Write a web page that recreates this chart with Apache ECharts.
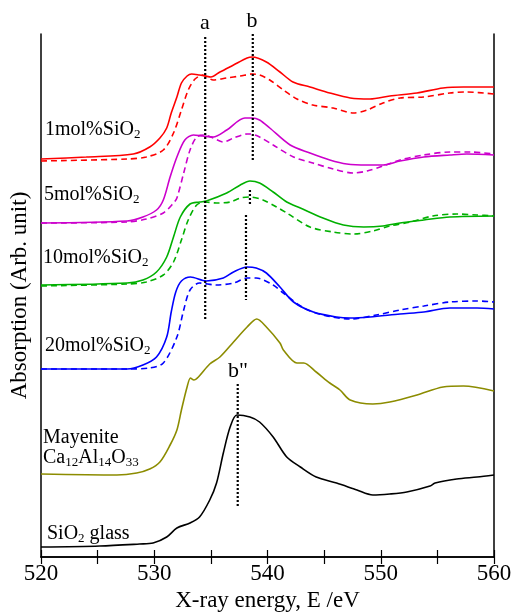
<!DOCTYPE html>
<html>
<head>
<meta charset="utf-8">
<script src="https://cdn.jsdelivr.net/npm/echarts@6/dist/echarts.min.js"></script>
<style>
  html, body { margin: 0; padding: 0; background: #fff; }
  #chart { width: 512px; height: 612px; }
</style>
</head>
<body>
<div id="chart"></div>
<script>
// energy (eV), absorption (arb. unit, stacked offsets)
const si1Solid = [[520,398],[524,400],[528.15,403],[529.6,410],[530.5,419],[531.1,429],[531.5,444],[532.0,460],[532.4,474],[532.9,481],[533.3,483],[534.0,482],[534.5,481],[535.0,480],[535.8,485],[537.0,492],[538.2,499],[538.65,500],[539.9,495],[541.1,485],[542.25,475],[543.75,470],[545.5,464],[547.3,459],[549.05,458],[550.8,461],[553.2,464],[555.5,469],[557.3,470],[560,470]];
const si1Dash = [[520,396],[527.6,398],[529.3,400],[530.8,407],[531.7,424],[532.4,447],[533.0,467],[533.6,478],[534.3,482],[535.2,477],[536.4,479],[537.6,481],[538.65,483],[539.3,482],[540.2,477],[541.4,467],[542.6,458],[544.0,452],[545.8,449],[547.6,444],[548.8,447],[550.2,454],[551.7,459],[553.8,460],[556.1,464],[557.6,465],[560,463]];
const si5Solid = [[520,334],[527.6,336],[529.0,340],[530.2,347],[530.8,357],[531.4,380],[532.0,400],[532.7,417],[533.45,422],[534.3,421],[535.2,420],[536.4,427],[538.0,439],[538.65,439],[539.3,437],[540.2,429],[542.0,412],[543.75,404],[545.5,397],[547.0,393],[548.8,392],[550.2,392],[551.7,396],[553.8,400],[556.1,402],[557.6,403],[560,402]];
const si5Dash = [[520,334],[527.6,335],[529.3,338],[530.8,344],[531.7,354],[532.0,359],[532.6,384],[533.16,407],[533.75,420],[534.4,422],[535.2,419],[536.1,415],[537.0,419],[538.2,423],[538.45,423],[539.3,420],[540.5,412],[542.3,400],[544.0,394],[545.8,388],[547.6,384],[548.8,386],[550.2,391],[551.7,397],[553.8,402],[556.1,405],[557.9,405],[560,403]];
const si10Solid = [[520,272],[527.6,274],[529.0,277],[530.2,285],[531.1,300],[531.7,320],[532.3,340],[533.16,353],[534.0,355],[534.6,356],[536.4,364],[537.6,372],[538.45,376],[539.3,374],[540.5,365],[541.7,355],[542.9,349],[544.9,339],[546.7,332],[548.5,330],[550.2,331],[551.7,334],[553.8,337],[556.1,340],[560,341]];
const si10Dash = [[520,271],[527.6,273],[529.3,275],[530.8,282],[531.7,295],[532.4,317],[533.0,337],[533.75,352],[534.5,355],[535.5,354],[536.7,355],[537.6,359],[538.45,360],[539.6,357],[540.8,350],[541.7,344],[543.75,330],[545.8,325],[547.6,323],[549.3,326],[550.8,331],[552.6,335],[554.6,341],[556.7,343],[558.5,342],[560,341]];
const si20Solid = [[520,188],[527.6,188],[529.0,192],[530.2,200],[531.1,220],[531.5,245],[531.9,265],[532.4,276],[533.2,280],[534.6,276],[536.1,279],[537.0,285],[538.2,290],[539.0,289],[539.9,284],[541.1,270],[542.3,255],[544.05,245],[546.1,240],[547.3,239],[549.05,240],[551.7,243],[553.8,245],[556.1,249],[558.5,249],[560,248]];
const si20Dash = [[520,188],[527.6,188],[529.6,189],[530.8,194],[532.0,220],[532.6,247],[533.16,267],[534.0,274],[535.5,272],[537.0,274],[538.2,279],[539.0,279],[540.5,272],[541.4,264],[543.2,249],[544.9,242],[547.3,238],[549.6,242],[551.7,247],[553.8,251],[556.1,255],[558.5,256],[560,255]];
const mayenite = [[520,83],[526.7,82],[528.45,84],[529.6,88],[530.5,95],[531.4,112],[532.0,127],[532.4,147],[532.9,170],[533.2,179],[533.5,177],[533.9,180],[534.9,193],[535.8,200],[537.0,215],[538.2,230],[539.05,238],[539.9,230],[541.1,214],[541.4,207],[542.6,194],[543.2,194],[544.3,185],[545.5,174],[546.4,167],[547.3,157],[549.3,153],[550.8,155],[553.2,162],[555.5,170],[557.3,171],[560,166]];
const silicaGlass = [[520,10],[525.2,11],[528.7,13],[529.9,14],[531.1,20],[532.0,29],[533.16,34],[534.0,40],[534.9,57],[535.5,74],[536.1,104],[536.7,130],[537.3,142],[538.45,140],[539.3,135],[540.5,120],[541.7,100],[542.9,90],[544.3,80],[546.1,74],[547.9,67],[549.3,62],[550.8,63],[552.3,65],[554.35,71],[554.8,74],[556.7,78],[558.5,80],[560,82]];

// dotted guide lines (energy, absorption)
const guideA = [[534.5,520],[534.5,238]];
const guideB1 = [[538.7,523],[538.7,397]];
const guideB2 = [[538.45,367],[538.45,352]];
const guideB3 = [[538.1,342],[538.1,257]];
const guideB2dd = [[537.37,173],[537.37,49]];

const sampleLabels = ['1mol%SiO{s|2}', '5mol%SiO{s|2}', '10mol%SiO{s|2}', '20mol%SiO{s|2}', 'Mayenite', 'Ca{s|12}Al{s|14}O{s|33}', 'SiO{s|2} glass'];
const xTicks = [520, 530, 540, 550, 560];

const FONT = '"Liberation Serif", "Times New Roman", serif';

const chart = echarts.init(document.getElementById('chart'));

function curve(data, color, dashed) {
  return {
    type: 'line', data: data, symbol: 'none', smooth: 0.3,
    silent: true, z: dashed ? 2 : 3,
    lineStyle: { color: color, width: 1.6, type: dashed ? [6, 4] : 'solid' }
  };
}
function guide(data) {
  return {
    type: 'line', data: data, symbol: 'none', silent: true, z: 5,
    lineStyle: { color: '#000', width: 2.2, type: [2, 2], cap: 'butt' }
  };
}
function label(text, left, y) {
  return {
    type: 'text', x: left, y: y, silent: true,
    style: {
      text: text, font: '20px ' + FONT, fill: '#000',
      align: 'left', verticalAlign: 'middle',
      rich: { s: { fontSize: 13, fontFamily: FONT, padding: [9, 0, 0, 0] } }
    }
  };
}
function mark(text, x, y) {
  return {
    type: 'text', x: x, y: y, silent: true,
    style: { text: text, font: '22px ' + FONT, fill: '#000', align: 'center', verticalAlign: 'middle' }
  };
}

const option = {
  animation: false,
  grid: { left: 41, right: 18, top: 34, bottom: 55, containLabel: false, outerBoundsMode: 'none' },
  xAxis: [
    {
      type: 'value', min: 520, max: 560, interval: 5, position: 'bottom',
      name: 'X-ray energy, E /eV', nameLocation: 'middle', nameGap: 31,
      nameTextStyle: { fontFamily: FONT, fontSize: 23, color: '#000' },
      axisLine: { lineStyle: { color: '#000', width: 1.5 } },
      axisTick: { inside: true, length: 7, lineStyle: { color: '#000', width: 1.2 } },
      axisLabel: {
        margin: 5, fontFamily: FONT, fontSize: 23, color: '#000',
        formatter: v => xTicks.indexOf(v) >= 0 ? String(v) : ''
      },
      splitLine: { show: false }
    },
    {
      type: 'value', min: 520, max: 560, interval: 5, position: 'top',
      axisLine: { lineStyle: { color: '#000', width: 1.5 } },
      axisTick: { inside: true, length: 7, lineStyle: { color: '#000', width: 1.2 } },
      axisLabel: { show: false }, splitLine: { show: false }
    }
  ],
  yAxis: [
    {
      type: 'value', min: 0, max: 523, position: 'left',
      name: 'Absorption (Arb. unit)', nameLocation: 'middle', nameGap: 10,
      nameTextStyle: { fontFamily: FONT, fontSize: 23, color: '#000' },
      axisLine: { show: true, lineStyle: { color: '#000', width: 1.5 } },
      axisTick: { show: false }, axisLabel: { show: false }, splitLine: { show: false }
    },
    {
      type: 'value', min: 0, max: 523, position: 'right',
      axisLine: { show: true, lineStyle: { color: '#000', width: 1.5 } },
      axisTick: { show: false }, axisLabel: { show: false }, splitLine: { show: false }
    }
  ],
  series: [
    curve(si1Dash, '#ff0000', true), curve(si1Solid, '#ff0000', false),
    curve(si5Dash, '#cc00cc', true), curve(si5Solid, '#cc00cc', false),
    curve(si10Dash, '#00b000', true), curve(si10Solid, '#00b000', false),
    curve(si20Dash, '#0000ff', true), curve(si20Solid, '#0000ff', false),
    curve(mayenite, '#8c8c00', false), curve(silicaGlass, '#000000', false),
    guide(guideA), guide(guideB1), guide(guideB2), guide(guideB3), guide(guideB2dd)
  ],
  graphic: [
    label(sampleLabels[0], 45, 130),
    label(sampleLabels[1], 44, 195),
    label(sampleLabels[2], 43, 258),
    label(sampleLabels[3], 45, 346),
    label(sampleLabels[4], 43, 438),
    label(sampleLabels[5], 43, 458),
    label(sampleLabels[6], 47, 534),
    mark('a', 205, 23),
    mark('b', 252, 21),
    mark('b"', 238, 371)
  ]
};
chart.setOption(option);
</script>
</body>
</html>
